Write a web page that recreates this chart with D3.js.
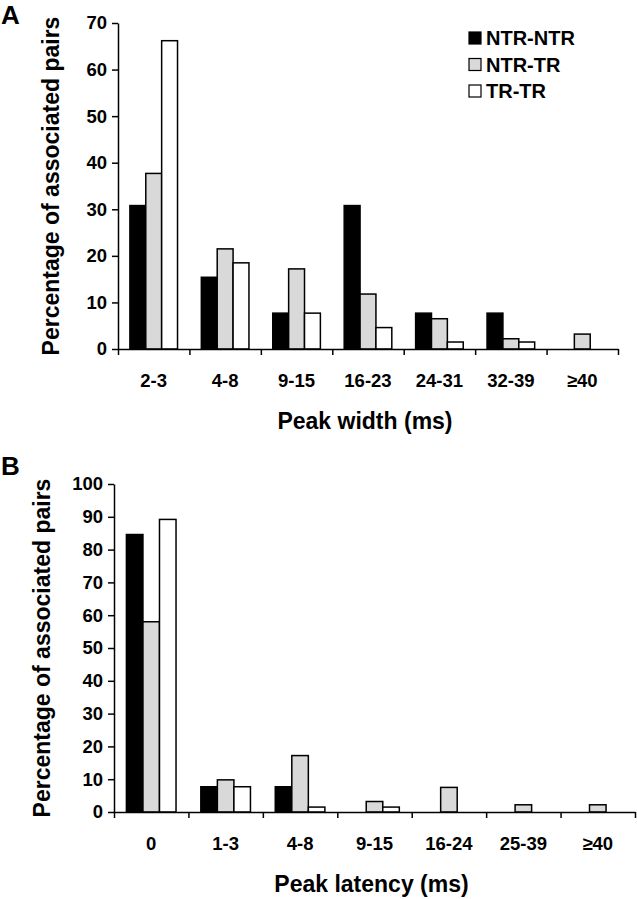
<!DOCTYPE html>
<html>
<head>
<meta charset="utf-8">
<script src="https://cdn.jsdelivr.net/npm/d3@7"></script>
<style>
  html, body { margin: 0; padding: 0; background: #fff; }
  svg { display: block; }
  text { font-family: "Liberation Sans", Arial, Helvetica, sans-serif; font-weight: bold; fill: #000; }
</style>
</head>
<body>
<svg id="chart" width="637" height="899"></svg>
<script>
// ---- Data ----
const seriesNames = ["NTR-NTR", "NTR-TR", "TR-TR"];
const seriesColors = ["#000000", "#d9d9d9", "#ffffff"];

const widthCategories = ["2-3", "4-8", "9-15", "16-23", "24-31", "32-39", "≥40"];
const widthNTRNTR = [30.8, 15.4, 7.7, 30.8, 7.7, 7.7, 0];
const widthNTRTR  = [37.7, 21.5, 17.2, 11.8, 6.5, 2.2, 3.2];
const widthTRTR   = [66.2, 18.5, 7.7, 4.6, 1.5, 1.5, 0];
const widthTicks  = [0, 10, 20, 30, 40, 50, 60, 70];

const latencyCategories = ["0", "1-3", "4-8", "9-15", "16-24", "25-39", "≥40"];
const latencyNTRNTR = [84.6, 7.7, 7.7, 0, 0, 0, 0];
const latencyNTRTR  = [58.0, 9.8, 17.2, 3.2, 7.5, 2.2, 2.2];
const latencyTRTR   = [89.2, 7.7, 1.5, 1.5, 0, 0, 0];
const latencyTicks  = [0, 10, 20, 30, 40, 50, 60, 70, 80, 90, 100];

const svg = d3.select("#chart");

function panel(opts) {
  const g = svg.append("g");
  const { cats, series, ticks, yMax, left, right, top, bottom, xTitle, yTitleX, letter, letterY } = opts;

  const x = d3.scaleBand().domain(cats).range([left, right]).padding(0);
  const xb = d3.scaleLinear().domain([0, cats.length]).range([left, right]);
  const y = d3.scaleLinear().domain([0, yMax]).range([bottom, top]);
  const bw = x.bandwidth() / 4.5;
  const off = (x.bandwidth() - 3 * bw) / 2;
  const xs = d3.scaleBand().domain(d3.range(3)).range([off, off + 3 * bw]).padding(0);

  // bars
  series.forEach((vals, si) => {
    g.append("g").selectAll("rect").data(vals.map((v, i) => ({ c: cats[i], v })))
      .join("rect")
      .filter(d => d.v > 0)
      .attr("x", d => x(d.c) + xs(si))
      .attr("y", d => y(d.v))
      .attr("width", xs.bandwidth())
      .attr("height", d => y(0) - y(d.v))
      .attr("fill", seriesColors[si])
      .attr("stroke", "#000")
      .attr("stroke-width", 1.5);
  });

  // y axis
  const ya = g.append("g").attr("transform", `translate(${left},0)`)
    .call(d3.axisLeft(y).tickValues(ticks).tickSize(6).tickSizeOuter(0).tickPadding(5));
  ya.selectAll("path, line").attr("stroke", "#000").attr("stroke-width", 1.5);
  ya.selectAll("text").attr("font-size", 18.5).attr("font-family", "Liberation Sans, Arial, sans-serif").attr("font-weight", "bold").attr("fill", "#000");

  // x axis (boundary ticks)
  const xa = g.append("g").attr("transform", `translate(0,${bottom})`)
    .call(d3.axisBottom(xb).tickValues(d3.range(cats.length + 1)).tickSize(6).tickSizeOuter(0).tickFormat(""));
  xa.selectAll("path, line").attr("stroke", "#000").attr("stroke-width", 1.5);

  // category labels
  g.append("g").selectAll("text").data(cats).join("text")
    .attr("x", d => x(d) + x.bandwidth() / 2)
    .attr("y", bottom + 38)
    .attr("text-anchor", "middle")
    .attr("font-size", 18.5)
    .text(d => d);

  // x title
  g.append("text")
    .attr("x", (left + right) / 2 - 3)
    .attr("y", bottom + 80)
    .attr("text-anchor", "middle")
    .attr("font-size", 23)
    .text(xTitle);

  // y title
  g.append("text")
    .attr("transform", `translate(${yTitleX},${(top + bottom) / 2}) rotate(-90)`)
    .attr("text-anchor", "middle")
    .attr("font-size", 23)
    .text("Percentage of associated pairs");

  // panel letter
  g.append("text").attr("x", 1).attr("y", letterY).attr("font-size", 26).text(letter);
}

panel({
  cats: widthCategories,
  series: [widthNTRNTR, widthNTRTR, widthTRTR],
  ticks: widthTicks, yMax: 70,
  left: 118, right: 618, top: 23, bottom: 349,
  xTitle: "Peak width (ms)", yTitleX: 59, letter: "A", letterY: 24
});

panel({
  cats: latencyCategories,
  series: [latencyNTRNTR, latencyNTRTR, latencyTRTR],
  ticks: latencyTicks, yMax: 100,
  left: 114, right: 635, top: 484, bottom: 812,
  xTitle: "Peak latency (ms)", yTitleX: 50, letter: "B", letterY: 475
});

// legend
const legend = svg.append("g").attr("transform", "translate(469,38)");
seriesNames.forEach((name, i) => {
  const row = legend.append("g").attr("transform", `translate(0,${i * 26.5})`);
  row.append("rect").attr("x", 0).attr("y", -6).attr("width", 12).attr("height", 12)
    .attr("fill", seriesColors[i]).attr("stroke", "#000").attr("stroke-width", 1.2);
  row.append("text").attr("x", 17).attr("y", 7).attr("font-size", 20).text(name);
});
</script>
</body>
</html>
